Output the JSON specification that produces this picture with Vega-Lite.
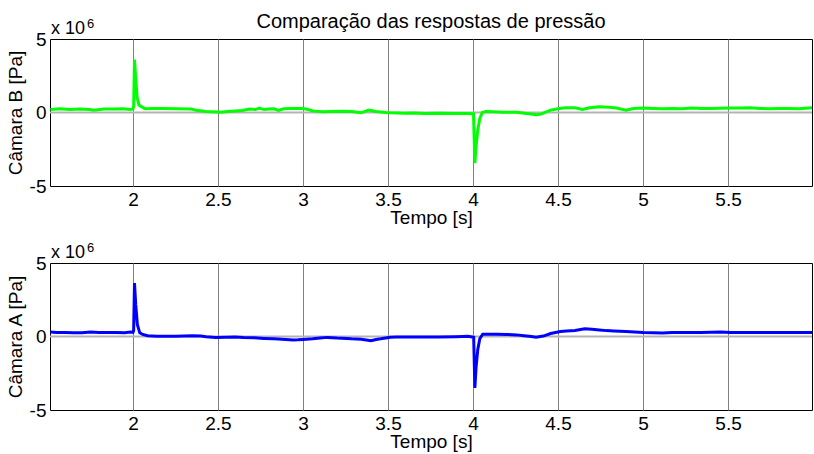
{
  "$schema": "https://vega.github.io/schema/vega-lite/v6.json",
  "background": "white",
  "padding": {"left": 5, "top": 11, "right": 0, "bottom": 0},
  "config": {
    "font": "Liberation Sans",
    "view": {"stroke": "#000000", "strokeWidth": 1},
    "axis": {
      "labelFont": "Liberation Sans",
      "labelFontSize": 19,
      "labelColor": "#000000",
      "titleFont": "Liberation Sans",
      "titleFontSize": 19,
      "titleFontWeight": "normal",
      "titleColor": "#000000",
      "domain": false,
      "ticks": false,
      "tickSize": 0
    }
  },
  "datasets": {
    "camaraB": [
      {"t": 1.514, "p": 200000}, {"t": 1.571, "p": 250000}, {"t": 1.629, "p": 200000},
      {"t": 1.686, "p": 230000}, {"t": 1.743, "p": 210000}, {"t": 1.771, "p": 160000},
      {"t": 1.829, "p": 230000}, {"t": 1.886, "p": 230000}, {"t": 1.943, "p": 250000},
      {"t": 1.986, "p": 200000}, {"t": 2.0, "p": 250000}, {"t": 2.004, "p": 400000},
      {"t": 2.009, "p": 3600000}, {"t": 2.016, "p": 2300000}, {"t": 2.025, "p": 1000000},
      {"t": 2.035, "p": 500000}, {"t": 2.05, "p": 400000}, {"t": 2.071, "p": 250000},
      {"t": 2.12, "p": 270000}, {"t": 2.171, "p": 270000}, {"t": 2.257, "p": 250000},
      {"t": 2.343, "p": 230000}, {"t": 2.371, "p": 160000}, {"t": 2.429, "p": 70000},
      {"t": 2.5, "p": 30000}, {"t": 2.514, "p": 20000}, {"t": 2.557, "p": 70000},
      {"t": 2.6, "p": 100000}, {"t": 2.643, "p": 140000}, {"t": 2.686, "p": 230000},
      {"t": 2.72, "p": 200000}, {"t": 2.743, "p": 300000}, {"t": 2.771, "p": 200000},
      {"t": 2.8, "p": 230000}, {"t": 2.829, "p": 250000}, {"t": 2.857, "p": 140000},
      {"t": 2.886, "p": 250000}, {"t": 2.93, "p": 270000}, {"t": 2.971, "p": 270000},
      {"t": 3.0, "p": 270000}, {"t": 3.03, "p": 200000}, {"t": 3.057, "p": 110000},
      {"t": 3.114, "p": 50000}, {"t": 3.171, "p": 70000}, {"t": 3.229, "p": 90000},
      {"t": 3.286, "p": 70000}, {"t": 3.343, "p": -20000}, {"t": 3.386, "p": 160000},
      {"t": 3.429, "p": 70000}, {"t": 3.486, "p": 0}, {"t": 3.514, "p": -20000},
      {"t": 3.6, "p": -50000}, {"t": 3.65, "p": -30000}, {"t": 3.714, "p": -70000},
      {"t": 3.8, "p": -50000}, {"t": 3.886, "p": -70000}, {"t": 3.971, "p": -70000},
      {"t": 4.003, "p": -100000}, {"t": 4.011, "p": -3450000}, {"t": 4.018, "p": -2300000},
      {"t": 4.028, "p": -1200000}, {"t": 4.04, "p": -400000}, {"t": 4.055, "p": 0},
      {"t": 4.075, "p": 70000}, {"t": 4.12, "p": 50000}, {"t": 4.171, "p": 20000},
      {"t": 4.257, "p": 20000}, {"t": 4.314, "p": -70000}, {"t": 4.371, "p": -160000},
      {"t": 4.4, "p": -110000}, {"t": 4.457, "p": 160000}, {"t": 4.5, "p": 250000},
      {"t": 4.543, "p": 320000}, {"t": 4.6, "p": 320000}, {"t": 4.643, "p": 200000},
      {"t": 4.686, "p": 320000}, {"t": 4.743, "p": 390000}, {"t": 4.8, "p": 360000},
      {"t": 4.843, "p": 300000}, {"t": 4.9, "p": 160000}, {"t": 4.943, "p": 270000},
      {"t": 5.0, "p": 300000}, {"t": 5.057, "p": 270000}, {"t": 5.114, "p": 250000},
      {"t": 5.171, "p": 270000}, {"t": 5.229, "p": 250000}, {"t": 5.286, "p": 300000},
      {"t": 5.343, "p": 270000}, {"t": 5.4, "p": 270000}, {"t": 5.457, "p": 290000},
      {"t": 5.514, "p": 300000}, {"t": 5.571, "p": 300000}, {"t": 5.629, "p": 320000},
      {"t": 5.686, "p": 280000}, {"t": 5.743, "p": 250000}, {"t": 5.8, "p": 270000},
      {"t": 5.857, "p": 270000}, {"t": 5.914, "p": 250000}, {"t": 5.994, "p": 320000}
    ],
    "camaraA": [
      {"t": 1.514, "p": 300000}, {"t": 1.55, "p": 280000}, {"t": 1.6, "p": 280000},
      {"t": 1.65, "p": 250000}, {"t": 1.7, "p": 260000}, {"t": 1.75, "p": 300000},
      {"t": 1.8, "p": 270000}, {"t": 1.86, "p": 280000}, {"t": 1.9, "p": 270000},
      {"t": 1.95, "p": 260000}, {"t": 1.986, "p": 300000}, {"t": 2.0, "p": 280000},
      {"t": 2.004, "p": 400000}, {"t": 2.009, "p": 3630000}, {"t": 2.016, "p": 2200000},
      {"t": 2.026, "p": 800000}, {"t": 2.04, "p": 250000}, {"t": 2.057, "p": 140000},
      {"t": 2.086, "p": 50000}, {"t": 2.14, "p": 20000}, {"t": 2.2, "p": 20000},
      {"t": 2.25, "p": 20000}, {"t": 2.3, "p": 30000}, {"t": 2.35, "p": 50000},
      {"t": 2.4, "p": 40000}, {"t": 2.43, "p": -20000}, {"t": 2.486, "p": -70000},
      {"t": 2.55, "p": -50000}, {"t": 2.6, "p": -40000}, {"t": 2.65, "p": -70000},
      {"t": 2.714, "p": -90000}, {"t": 2.77, "p": -130000}, {"t": 2.829, "p": -160000},
      {"t": 2.9, "p": -200000}, {"t": 2.943, "p": -230000}, {"t": 2.97, "p": -220000},
      {"t": 3.0, "p": -200000}, {"t": 3.057, "p": -160000}, {"t": 3.1, "p": -110000},
      {"t": 3.143, "p": -60000}, {"t": 3.2, "p": -110000}, {"t": 3.229, "p": -120000},
      {"t": 3.286, "p": -160000}, {"t": 3.343, "p": -180000}, {"t": 3.4, "p": -290000},
      {"t": 3.43, "p": -200000}, {"t": 3.457, "p": -160000}, {"t": 3.514, "p": -50000},
      {"t": 3.55, "p": -40000}, {"t": 3.629, "p": -30000}, {"t": 3.7, "p": -30000},
      {"t": 3.8, "p": -30000}, {"t": 3.9, "p": -10000}, {"t": 3.971, "p": 20000},
      {"t": 4.004, "p": -50000}, {"t": 4.011, "p": -3500000}, {"t": 4.018, "p": -2100000},
      {"t": 4.028, "p": -900000}, {"t": 4.04, "p": -150000}, {"t": 4.057, "p": 150000},
      {"t": 4.1, "p": 160000}, {"t": 4.14, "p": 160000}, {"t": 4.2, "p": 140000},
      {"t": 4.257, "p": 110000}, {"t": 4.3, "p": 50000}, {"t": 4.343, "p": 0},
      {"t": 4.371, "p": -50000}, {"t": 4.414, "p": 30000}, {"t": 4.457, "p": 200000},
      {"t": 4.514, "p": 340000}, {"t": 4.55, "p": 380000}, {"t": 4.6, "p": 410000},
      {"t": 4.657, "p": 520000}, {"t": 4.7, "p": 500000}, {"t": 4.743, "p": 450000},
      {"t": 4.786, "p": 400000}, {"t": 4.829, "p": 380000}, {"t": 4.9, "p": 340000},
      {"t": 4.95, "p": 300000}, {"t": 5.0, "p": 270000}, {"t": 5.06, "p": 250000},
      {"t": 5.114, "p": 230000}, {"t": 5.171, "p": 270000}, {"t": 5.229, "p": 270000},
      {"t": 5.286, "p": 270000}, {"t": 5.343, "p": 270000}, {"t": 5.4, "p": 290000},
      {"t": 5.457, "p": 300000}, {"t": 5.514, "p": 280000}, {"t": 5.571, "p": 270000},
      {"t": 5.629, "p": 280000}, {"t": 5.686, "p": 270000}, {"t": 5.743, "p": 270000},
      {"t": 5.8, "p": 280000}, {"t": 5.857, "p": 280000}, {"t": 5.914, "p": 280000},
      {"t": 5.994, "p": 270000}
    ]
  },
  "bounds": "flush",
  "spacing": 77,
  "vconcat": [
    {
      "width": 762,
      "height": 147,
      "title": {
        "text": "Comparação das respostas de pressão",
        "font": "Liberation Sans",
        "fontSize": 20,
        "fontWeight": "normal",
        "color": "#000000",
        "anchor": "middle",
        "frame": "group",
        "baseline": "alphabetic",
        "offset": -30
      },
      "layer": [
        {
          "data": {"values": [{}]},
          "mark": {"type": "rule", "color": "#b4b4b4", "strokeWidth": 2},
          "encoding": {"y": {"datum": 0}}
        },
        {
          "data": {"name": "camaraB"},
          "mark": {"type": "line", "color": "#00ff00", "strokeWidth": 3},
          "encoding": {
            "x": {
              "field": "t", "type": "quantitative",
              "scale": {"domain": [1.512, 5.994], "nice": false, "zero": false},
              "axis": {
                "title": "Tempo [s]",
                "values": [2, 2.5, 3, 3.5, 4, 4.5, 5, 5.5],
                "labelExpr": "toString(datum.value)",
                "grid": true, "gridColor": "#808080", "gridWidth": 1,
                "labelPadding": 4,
                "titleY": 37, "titleBaseline": "alphabetic"
              }
            },
            "y": {
              "field": "p", "type": "quantitative",
              "scale": {"domain": [-5000000, 5000000], "nice": false},
              "axis": {
                "title": "Câmara B [Pa]",
                "values": [-5000000, 0, 5000000],
                "labelExpr": "toString(datum.value / 1000000)",
                "grid": false,
                "labelPadding": 4,
                "titleX": -29, "titleBaseline": "alphabetic"
              }
            }
          }
        },
        {
          "data": {"values": [{}]},
          "mark": {"type": "text", "text": "x 10", "align": "left", "baseline": "alphabetic", "dx": 1, "dy": -5, "fontSize": 18, "font": "Liberation Sans", "color": "#000000"},
          "encoding": {"x": {"datum": 1.512}, "y": {"datum": 5000000}}
        },
        {
          "data": {"values": [{}]},
          "mark": {"type": "text", "text": "6", "align": "left", "baseline": "alphabetic", "dx": 37, "dy": -11, "fontSize": 13, "font": "Liberation Sans", "color": "#000000"},
          "encoding": {"x": {"datum": 1.512}, "y": {"datum": 5000000}}
        }
      ]
    },
    {
      "width": 762,
      "height": 147,
      "layer": [
        {
          "data": {"values": [{}]},
          "mark": {"type": "rule", "color": "#b4b4b4", "strokeWidth": 2},
          "encoding": {"y": {"datum": 0}}
        },
        {
          "data": {"name": "camaraA"},
          "mark": {"type": "line", "color": "#0000ff", "strokeWidth": 3},
          "encoding": {
            "x": {
              "field": "t", "type": "quantitative",
              "scale": {"domain": [1.512, 5.994], "nice": false, "zero": false},
              "axis": {
                "title": "Tempo [s]",
                "values": [2, 2.5, 3, 3.5, 4, 4.5, 5, 5.5],
                "labelExpr": "toString(datum.value)",
                "grid": true, "gridColor": "#808080", "gridWidth": 1,
                "labelPadding": 4,
                "titleY": 37, "titleBaseline": "alphabetic"
              }
            },
            "y": {
              "field": "p", "type": "quantitative",
              "scale": {"domain": [-5000000, 5000000], "nice": false},
              "axis": {
                "title": "Câmara A [Pa]",
                "values": [-5000000, 0, 5000000],
                "labelExpr": "toString(datum.value / 1000000)",
                "grid": false,
                "labelPadding": 4,
                "titleX": -29, "titleBaseline": "alphabetic"
              }
            }
          }
        },
        {
          "data": {"values": [{}]},
          "mark": {"type": "text", "text": "x 10", "align": "left", "baseline": "alphabetic", "dx": 1, "dy": -5, "fontSize": 18, "font": "Liberation Sans", "color": "#000000"},
          "encoding": {"x": {"datum": 1.512}, "y": {"datum": 5000000}}
        },
        {
          "data": {"values": [{}]},
          "mark": {"type": "text", "text": "6", "align": "left", "baseline": "alphabetic", "dx": 37, "dy": -11, "fontSize": 13, "font": "Liberation Sans", "color": "#000000"},
          "encoding": {"x": {"datum": 1.512}, "y": {"datum": 5000000}}
        }
      ]
    }
  ]
}
